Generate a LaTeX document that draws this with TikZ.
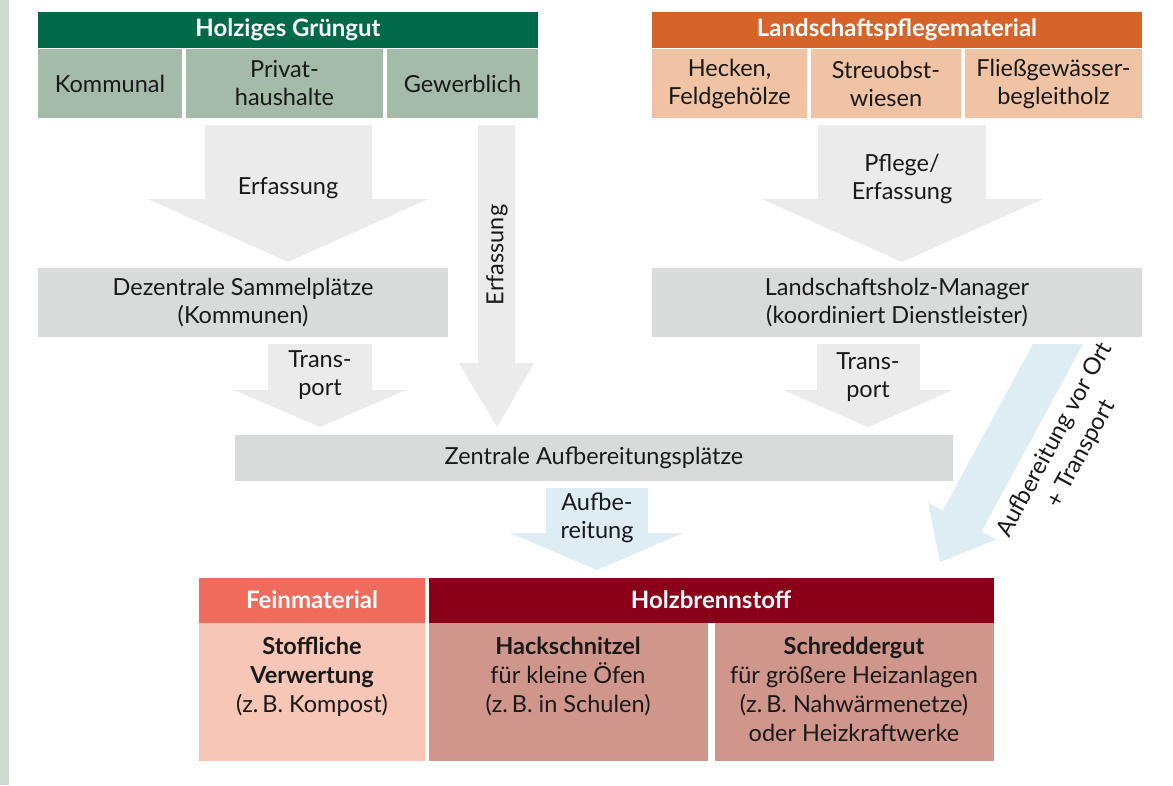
\documentclass[tikz,border=0pt]{standalone}
\usepackage{fontspec}
\setmainfont{Lato}
\definecolor{strip}{HTML}{CFDBD0}
\definecolor{dgreen}{HTML}{006A48}
\definecolor{lgreen}{HTML}{A3BBA8}
\definecolor{dorange}{HTML}{D6632A}
\definecolor{peach}{HTML}{F0C3A4}
\definecolor{grbox}{HTML}{D9DBDB}
\definecolor{grarrow}{HTML}{EBEBEB}
\definecolor{blarrow}{HTML}{DEECF4}
\definecolor{feinhdr}{HTML}{EF6B5B}
\definecolor{feinbody}{HTML}{F7C6B6}
\definecolor{holzhdr}{HTML}{8B0019}
\definecolor{holzbody}{HTML}{D1968B}
\begin{document}
\begin{tikzpicture}[x=1pt,y=-1pt,
  txt/.style={font=\fontsize{23.5}{28}\selectfont, align=center, inner sep=0pt, text=black!90},
  bodytxt/.style={font=\fontsize{23.5}{29}\selectfont, align=center, inner sep=0pt, text=black!90, anchor=north},
  hdrtxt/.style={font=\bfseries\fontsize{24}{28}\selectfont, text=white, inner sep=0pt},
  cell/.style={anchor=north west, inner sep=0pt, outer sep=0pt, align=center,
     font=\fontsize{23.5}{28}\selectfont, text=black!90},
  garrow/.style={fill=grarrow},
  barrow/.style={fill=blarrow}]
\useasboundingbox (0,0) rectangle (1173,785);
\fill[white] (0,0) rectangle (1173,785);
\fill[strip] (0,0) rectangle (9,785);

% ---- top left group
\node[cell, fill=dgreen, minimum width=500pt, minimum height=36pt] (hdrL) at (38,12) {};
\node[hdrtxt] (hdrLt) at (288,30) {Holziges Grüngut};
\node[cell, fill=lgreen, minimum width=144pt, minimum height=69pt] (komm) at (38,49) {Kommunal};
\node[cell, fill=lgreen, minimum width=197pt, minimum height=69pt] (priv) at (186,49) {Privat-\\haushalte};
\node[cell, fill=lgreen, minimum width=151pt, minimum height=69pt] (gew) at (387,49) {Gewerblich};

% ---- top right group
\node[cell, fill=dorange, minimum width=490pt, minimum height=36pt] (hdrR) at (652,12) {};
\node[hdrtxt] (hdrRt) at (897,30) {Landschaftspflegematerial};
\node[cell, fill=peach, minimum width=155pt, minimum height=69pt] (heck) at (652,49) {Hecken,\\Feldgehölze};
\node[cell, fill=peach, minimum width=150pt, minimum height=69pt] (streu) at (811,49) {Streuobst-\\wiesen};
\node[cell, fill=peach, minimum width=177pt, minimum height=69pt] (fliess) at (965,49) {Fließgewässer-\\begleitholz};

% ---- arrows row 1
\fill[garrow] (205,125) -- (372,125) -- (372,199) -- (428,199) -- (288,262) -- (148,199) -- (205,199) -- cycle;
\node[txt] (erf1) at (288,188) {Erfassung};
\fill[garrow] (478,125) -- (515,125) -- (515,363) -- (534,363) -- (497,427) -- (459,363) -- (478,363) -- cycle;
\node[txt, rotate=90] (erf2) at (497,255) {Erfassung};
\fill[garrow] (818,125) -- (986,125) -- (986,199) -- (1043,199) -- (902,262) -- (762,199) -- (818,199) -- cycle;
\node[txt] (pflege) at (902,179) {Pflege/\\Erfassung};

% ---- middle boxes
\node[cell, fill=grbox, minimum width=410pt, minimum height=69pt] (dez) at (38,268) {Dezentrale Sammelplätze\\(Kommunen)};
\node[cell, fill=grbox, minimum width=490pt, minimum height=69pt] (lhm) at (652,268) {Landschaftsholz-Manager\\(koordiniert Dienstleister)};

% ---- transport arrows
\fill[garrow] (268,344) -- (372,344) -- (372,390) -- (406,390) -- (320,427) -- (234,390) -- (268,390) -- cycle;
\node[txt] (tr1) at (320,375) {Trans-\\port};
\fill[garrow] (817,344) -- (920,344) -- (920,390) -- (953,390) -- (868,427) -- (783,390) -- (817,390) -- cycle;
\node[txt] (tr2) at (868,377) {Trans-\\port};

% ---- diagonal arrow
\fill[barrow] (1033,344) -- (1083,344) -- (981.4,531.6) -- (996.1,539.5) -- (940,562) -- (928.1,502.7) -- (942.8,510.6) -- cycle;
\node[font=\fontsize{23.5}{30}\selectfont, align=center, inner sep=0pt, text=black!90, rotate=61.6] (diag) at (1068,447) {Aufbereitung vor Ort\\+ Transport};

% ---- central box
\node[cell, fill=grbox, minimum width=718pt, minimum height=46pt] (zen) at (235,435) {Zentrale Aufbereitungsplätze};

% ---- aufbereitung arrow
\fill[barrow] (546,488) -- (648,488) -- (648,533) -- (683,533) -- (597,570) -- (510,533) -- (546,533) -- cycle;
\node[txt] (aufb) at (597,518) {Aufbe-\\reitung};

% ---- bottom group
\node[cell, fill=feinhdr, minimum width=226pt, minimum height=45pt] (feinh) at (199,578) {};
\node[hdrtxt] (feinht) at (312,600) {Feinmaterial};
\node[cell, fill=feinbody, minimum width=226pt, minimum height=138pt] (feinb) at (199,623) {};
\node[bodytxt] (feinbt) at (312,637) {\textbf{Stoffliche}\\\textbf{Verwertung}\\(z.\,B. Kompost)};

\node[cell, fill=holzhdr, minimum width=565pt, minimum height=45pt] (holzh) at (429,578) {};
\node[hdrtxt] (holzht) at (711,600) {Holzbrennstoff};
\node[cell, fill=holzbody, minimum width=279pt, minimum height=138pt] (hack) at (429,623) {};
\node[bodytxt] (hackt) at (568,637) {\textbf{Hackschnitzel}\\für kleine Öfen\\(z.\,B. in Schulen)};
\node[cell, fill=holzbody, minimum width=279pt, minimum height=138pt] (schr) at (715,623) {};
\node[bodytxt] (schrt) at (854,637) {\textbf{Schreddergut}\\für größere Heizanlagen\\(z.\,B. Nahwärmenetze)\\oder Heizkraftwerke};
\end{tikzpicture}
\end{document}
